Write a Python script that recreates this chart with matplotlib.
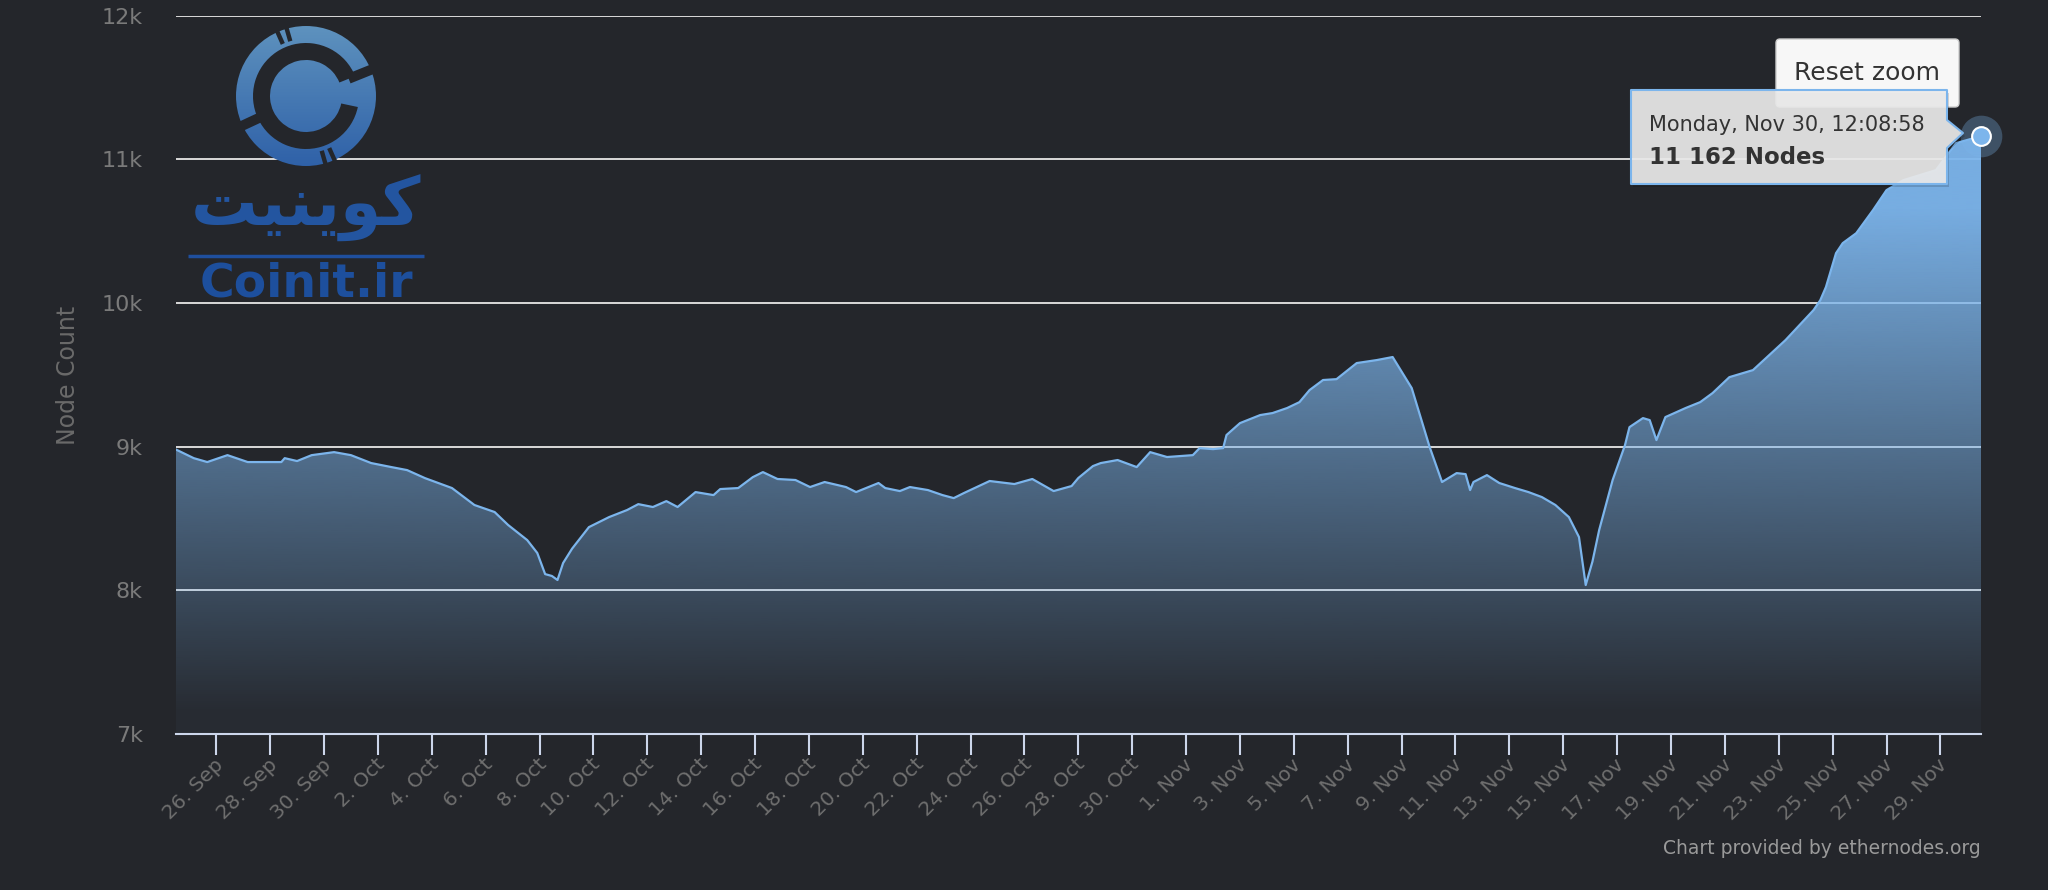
import matplotlib
matplotlib.use("Agg")
import matplotlib.pyplot as plt
import matplotlib.dates as mdates
from matplotlib.colors import to_rgb
from matplotlib.patches import Polygon, Circle, Wedge, FancyBboxPatch
from matplotlib.transforms import ScaledTranslation
import numpy as np
import pandas as pd

plt.rcParams["font.family"] = ["DejaVu Sans"]

# ---------------- data ----------------
dates = [
    "2020-09-24 12:09", "2020-09-25 04:00", "2020-09-25 16:00", "2020-09-26 10:00",
    "2020-09-27 04:00", "2020-09-28 10:00", "2020-09-28 13:00", "2020-09-29 00:00",
    "2020-09-29 13:00", "2020-09-30 09:00", "2020-10-01 00:00", "2020-10-01 18:00",
    "2020-10-02 12:00", "2020-10-03 02:00", "2020-10-03 18:00", "2020-10-04 18:00",
    "2020-10-05 14:00", "2020-10-06 08:00", "2020-10-06 20:00", "2020-10-07 13:00",
    "2020-10-07 22:00", "2020-10-08 05:00", "2020-10-08 11:00", "2020-10-08 16:00",
    "2020-10-08 21:00", "2020-10-09 05:00", "2020-10-09 20:00", "2020-10-10 14:00",
    "2020-10-11 06:00", "2020-10-11 16:00", "2020-10-12 05:00", "2020-10-12 17:00",
    "2020-10-13 03:00", "2020-10-13 19:00", "2020-10-14 11:00", "2020-10-14 17:00",
    "2020-10-15 09:00", "2020-10-15 22:00", "2020-10-16 07:00", "2020-10-16 20:00",
    "2020-10-17 12:00", "2020-10-18 01:00", "2020-10-18 14:00", "2020-10-19 09:00",
    "2020-10-19 18:00", "2020-10-20 14:00", "2020-10-20 20:00", "2020-10-21 09:00",
    "2020-10-21 18:00", "2020-10-22 10:00", "2020-10-22 23:00", "2020-10-23 09:00",
    "2020-10-23 18:00", "2020-10-24 17:00", "2020-10-25 15:00", "2020-10-26 07:00",
    "2020-10-27 02:00", "2020-10-27 18:00", "2020-10-28 00:00", "2020-10-28 13:00",
    "2020-10-28 20:00", "2020-10-29 11:00", "2020-10-30 04:00", "2020-10-30 16:00",
    "2020-10-31 07:00", "2020-11-01 06:00", "2020-11-01 12:00", "2020-11-02 00:00",
    "2020-11-02 09:00", "2020-11-02 12:00", "2020-11-03 00:00", "2020-11-03 18:00",
    "2020-11-04 05:00", "2020-11-04 18:00", "2020-11-05 05:00", "2020-11-05 14:00",
    "2020-11-06 02:00", "2020-11-06 14:00", "2020-11-07 08:00", "2020-11-08 02:00",
    "2020-11-08 16:00", "2020-11-09 09:00", "2020-11-10 01:00", "2020-11-10 12:00",
    "2020-11-11 01:00", "2020-11-11 09:00", "2020-11-11 13:00", "2020-11-11 16:00",
    "2020-11-12 04:00", "2020-11-12 15:00", "2020-11-13 05:00", "2020-11-13 17:00",
    "2020-11-14 05:00", "2020-11-14 17:00", "2020-11-15 05:00", "2020-11-15 14:00",
    "2020-11-15 20:00", "2020-11-16 02:00", "2020-11-16 08:00", "2020-11-16 20:00",
    "2020-11-17 07:00", "2020-11-17 11:00", "2020-11-17 23:00", "2020-11-18 05:00",
    "2020-11-18 11:00", "2020-11-18 19:00", "2020-11-19 13:00", "2020-11-20 02:00",
    "2020-11-20 13:00", "2020-11-21 04:00", "2020-11-22 01:00", "2020-11-23 06:00",
    "2020-11-24 07:00", "2020-11-24 13:00", "2020-11-24 18:00", "2020-11-25 03:00",
    "2020-11-25 09:00", "2020-11-25 21:00", "2020-11-26 12:00", "2020-11-27 00:00",
    "2020-11-27 15:00", "2020-11-28 20:00", "2020-11-29 14:00", "2020-11-30 12:08:58",
]
nodes = [
    8980, 8920, 8893, 8941,
    8893, 8893, 8920, 8900,
    8941, 8962, 8941, 8886,
    8858, 8837, 8781, 8712,
    8594, 8545, 8455, 8350,
    8260, 8113, 8100, 8072,
    8190, 8290, 8440, 8510,
    8559, 8600, 8580, 8621,
    8580, 8684, 8663, 8705,
    8712, 8788, 8823, 8775,
    8768, 8719, 8754, 8719,
    8684, 8747, 8712, 8691,
    8719, 8698, 8663, 8642,
    8677, 8761, 8740, 8775,
    8691, 8726, 8782, 8865,
    8886, 8907, 8858, 8962,
    8928, 8941, 8990, 8983,
    8990, 9081, 9164, 9220,
    9234, 9269, 9310, 9394,
    9464, 9470, 9582, 9603,
    9624, 9408, 8997, 8754,
    8816, 8809, 8698, 8754,
    8802, 8747, 8712, 8684,
    8649, 8594, 8510, 8371,
    8037, 8200, 8420, 8768,
    9011, 9136, 9199, 9185,
    9046, 9206, 9269, 9310,
    9373, 9484, 9533, 9742,
    9951, 10020, 10111, 10347,
    10417, 10486, 10647, 10786,
    10855, 10925, 11113, 11162,
]
tick_dates = pd.date_range("2020-09-26", "2020-11-29", freq="2D")
y_ticks = [7000, 8000, 9000, 10000, 11000, 12000]
y_labels = ["7k", "8k", "9k", "10k", "11k", "12k"]
tooltip_header = "Monday, Nov 30, 12:08:58"
tooltip_value = "11 162 Nodes"

# ---------------- figure ----------------
W, H = 2048, 890
BG = "#24262b"
LINE = "#7cb5ec"
fig = plt.figure(figsize=(W / 100, H / 100), dpi=100, facecolor=BG)
ax = fig.add_axes([176 / W, 1 - 734 / H, (1981 - 176) / W, (734 - 15.7) / H])
ax.set_facecolor(BG)

x = mdates.date2num(pd.to_datetime(dates, format="ISO8601"))
v = np.array(nodes, dtype=float)

# gradient area fill
tt = np.linspace(0, 1, 400)
alpha = np.clip(1.3 - 1.3 * tt, 0.04, 0.95)
rgba = np.zeros((400, 1, 4))
rgba[..., :3] = to_rgb(LINE)
rgba[:, 0, 3] = alpha
im = ax.imshow(rgba, extent=[x[0], x[-1], 7000, 12000], origin="upper",
               aspect="auto", interpolation="bilinear", zorder=2)
poly = Polygon(np.column_stack([np.r_[x[0], x, x[-1]], np.r_[7000, v, 7000]]),
               closed=True, facecolor="none", edgecolor="none")
ax.add_patch(poly)
im.set_clip_path(poly)

ax.plot(x, v, color=LINE, lw=1.6, zorder=3, solid_joinstyle="round")

# highlighted last point
ax.plot(x[-1], v[-1], "o", ms=30, color=LINE, alpha=0.3, mec="none", zorder=4, clip_on=False)
ax.plot(x[-1], v[-1], "o", ms=13.5, color=LINE, mec="white", mew=1.5, zorder=5, clip_on=False)

ax.set_xlim(x[0], x[-1])
ax.set_ylim(7000, 12000)

# axes styling
for s in ["top", "right", "left"]:
    ax.spines[s].set_visible(False)
ax.spines["bottom"].set_color("#ccd6eb")
ax.spines["bottom"].set_linewidth(1.5)
ax.spines["bottom"].set_zorder(6)

ax.set_yticks(y_ticks)
ax.set_yticklabels(y_labels)
ax.tick_params(axis="y", length=0, pad=24, labelsize=16, labelcolor="#7a7a7a")
ax.yaxis.grid(True, color="#d9d9d9", lw=1.4)
ax.set_axisbelow(True)

ax.set_xticks(mdates.date2num(tick_dates))
ax.set_xticklabels([f"{d.day}. {d:%b}" for d in tick_dates])
ax.tick_params(axis="x", direction="out", length=15, width=1.5, color="#ccd6eb",
               pad=5, labelsize=14.5, labelcolor="#6f6f6f")
off = ScaledTranslation(4 / 100, 0, fig.dpi_scale_trans)
for lbl in ax.get_xticklabels():
    lbl.set_rotation(45)
    lbl.set_ha("right")
    lbl.set_va("center")
    lbl.set_rotation_mode("anchor")
    lbl.set_transform(lbl.get_transform() + off)

# ---------------- overlay (pixel coordinates) ----------------
ov = fig.add_axes([0, 0, 1, 1], zorder=10)
ov.patch.set_alpha(0)
ov.axis("off")

ov.text(68, 375, "Node Count", rotation=90, ha="center", va="center",
        fontsize=17, color="#6a6a6a")
ov.text(1981, 848, "Chart provided by ethernodes.org", ha="right", va="center",
        fontsize=13.5, color="#9a9a9a")

# logo
cx, cy, R = 306, 96, 70
g = np.linspace(0, 1, 200)
c_top, c_bot = np.array(to_rgb("#5e92be")), np.array(to_rgb("#2f61a8"))
grad = (c_top[None, :] * (1 - g[:, None]) + c_bot[None, :] * g[:, None])[:, None, :]
lim = ov.imshow(grad, extent=[cx - R, cx + R, cy + R, cy - R], origin="upper",
                aspect="auto", interpolation="bilinear")
circ = Circle((cx, cy), R, facecolor="none", edgecolor="none")
ov.add_patch(circ)
lim.set_clip_path(circ)
ov.add_patch(Wedge((cx, cy), 53, 12, 338, width=17, facecolor=BG, edgecolor="none"))


def radial_bar(ang_deg, r0, r1, half_w):
    a = np.deg2rad(ang_deg)
    d = np.array([np.cos(a), np.sin(a)])
    n = np.array([-d[1], d[0]])
    c = np.array([cx, cy])
    pts = [c + d * r0 + n * half_w, c + d * r1 + n * half_w,
           c + d * r1 - n * half_w, c + d * r0 - n * half_w]
    ov.add_patch(Polygon(pts, closed=True, facecolor=BG, edgecolor="none"))


radial_bar(-22, 46, 74, 5)
radial_bar(155, 46, 74, 5)
for a in (-106, -114, 66, 74):
    radial_bar(a, 57, 74, 2.2)

persian = "\uFE96\uFBFF\uFEE8\uFBFE\uFEEE\uFB90"
ov.text(306, 208, persian, fontsize=48, fontweight="bold", color="#2355a0",
        ha="center", va="center")
ov.plot([188, 424], [256, 256], color="#1f4f9e", lw=2.5, solid_capstyle="butt")
ov.text(306, 284, "Coinit.ir", fontsize=34, fontweight="bold", color="#1d4f9d",
        ha="center", va="center")

# reset zoom button
ov.add_patch(FancyBboxPatch((1776, 39), 183, 68, boxstyle="round,pad=0,rounding_size=4",
                            facecolor="#f7f7f7", edgecolor="#cccccc", lw=1))
ov.text(1867, 73, "Reset zoom", ha="center", va="center", fontsize=18, color="#333333")

# tooltip
tip = [(1631, 90), (1947, 90), (1947, 120), (1963, 133), (1947, 148), (1947, 184), (1631, 184)]
ov.add_patch(Polygon([(px + 2, py + 3) for px, py in tip], closed=True,
                     facecolor=(0, 0, 0, 0.15), edgecolor="none"))
ov.add_patch(Polygon(tip, closed=True, facecolor=(0.92, 0.92, 0.92, 0.92),
                     edgecolor=LINE, lw=1.5, joinstyle="round"))
ov.text(1649, 125, tooltip_header, ha="left", va="center", fontsize=15, color="#333333")
ov.text(1649, 157, tooltip_value, ha="left", va="center", fontsize=16.5,
        fontweight="bold", color="#333333")

ov.set_xlim(0, W)
ov.set_ylim(H, 0)

fig.savefig("out.png", dpi=100, facecolor=BG)
